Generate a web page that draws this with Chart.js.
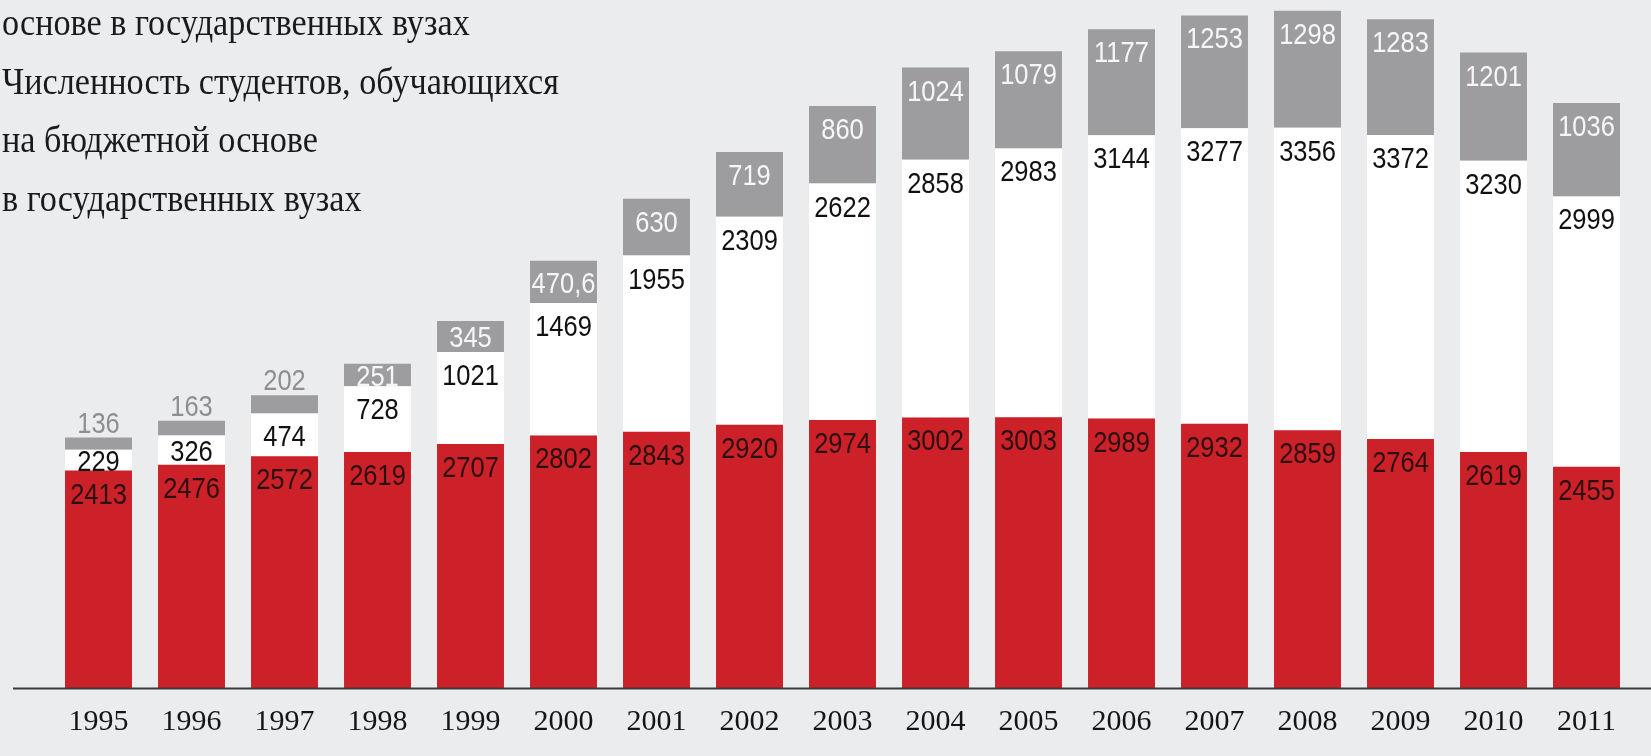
<!DOCTYPE html>
<html>
<head>
<meta charset="utf-8">
<script src="https://cdn.jsdelivr.net/npm/chart.js@4.4.1/dist/chart.umd.min.js"></script>
<style>
  html, body { margin: 0; padding: 0; background: #ebecee; }
  #wrap { position: relative; width: 1651px; height: 756px; overflow: hidden; }
  #legend { position: absolute; left: 2px; top: -7px; font-family: "Liberation Serif", "DejaVu Serif", serif;
            font-size: 38px; line-height: 58.7px; color: #1a1a1a; white-space: nowrap; z-index: 2; pointer-events: none;
            transform: scaleX(0.9); transform-origin: 0 0; }
  canvas { position: absolute; left: 0; top: 0; }
</style>
</head>
<body>
<div id="wrap">
  <canvas id="c" width="1651" height="756"></canvas>
  <div id="legend">
    <div>основе в государственных вузах</div>
    <div>Численность студентов, обучающихся</div>
    <div>на бюджетной основе</div>
    <div>в государственных вузах</div>
  </div>
</div>
<script>
const years = ['1995','1996','1997','1998','1999','2000','2001','2002','2003','2004','2005','2006','2007','2008','2009','2010','2011'];
const budgetStudents = [2413, 2476, 2572, 2619, 2707, 2802, 2843, 2920, 2974, 3002, 3003, 2989, 2932, 2859, 2764, 2619, 2455];
const paidStudents = [229, 326, 474, 728, 1021, 1469, 1955, 2309, 2622, 2858, 2983, 3144, 3277, 3356, 3372, 3230, 2999];
const privateStudents = [136, 163, 202, 251, 345, 470.6, 630, 719, 860, 1024, 1079, 1177, 1253, 1298, 1283, 1201, 1036];

const labelFont = '30px "Liberation Sans", Arial, sans-serif';
const labelColors = ['#2a1011', '#111111', '#f6f6f6'];

const segmentLabels = {
  id: 'segmentLabels',
  afterDatasetsDraw(chart) {
    const ctx = chart.ctx;
    ctx.save();
    ctx.font = labelFont;
    ctx.textAlign = 'center';
    ctx.textBaseline = 'alphabetic';
    const n = chart.data.labels.length;
    for (let i = 0; i < n; i++) {
      let barTop = Infinity;
      chart.data.datasets.forEach((ds, di) => {
        const el = chart.getDatasetMeta(di).data[i];
        barTop = Math.min(barTop, el.y);
      });
      chart.data.datasets.forEach((ds, di) => {
        const el = chart.getDatasetMeta(di).data[i];
        const top = el.y, bottom = el.base;
        const h = bottom - top;
        const txt = String(ds.data[i]).replace('.', ',');
        let cy, color = labelColors[di];
        if (h >= 20) {
          cy = top + Math.min(22, h / 2);
        } else {
          cy = barTop - 16;
          color = '#8f8f91';
        }
        ctx.fillStyle = color;
        ctx.save();
        ctx.translate(el.x, cy + 11);
        ctx.scale(0.85, 1);
        ctx.fillText(txt, 0, 0);
        ctx.restore();
      });
    }
    ctx.restore();
  }
};

const baseLine = {
  id: 'baseLine',
  afterDatasetsDraw(chart) {
    const ctx = chart.ctx;
    const y = chart.chartArea.bottom + 0.5;
    ctx.save();
    ctx.strokeStyle = '#3a3a3a';
    ctx.lineWidth = 2;
    ctx.beginPath();
    ctx.moveTo(13, y);
    ctx.lineTo(1651, y);
    ctx.stroke();
    ctx.restore();
  }
};

new Chart(document.getElementById('c'), {
  type: 'bar',
  data: {
    labels: years,
    datasets: [
      { label: 'Бюджетная основа', data: budgetStudents, backgroundColor: '#cc2128' },
      { label: 'Платная основа', data: paidStudents, backgroundColor: '#ffffff' },
      { label: 'Негосударственные вузы', data: privateStudents, backgroundColor: '#9d9d9f' }
    ]
  },
  options: {
    responsive: false,
    animation: false,
    layout: { padding: { left: 52, right: 18, top: 3, bottom: 0 } },
    datasets: { bar: { categoryPercentage: 1, barPercentage: 0.72, borderWidth: 0 } },
    plugins: { legend: { display: false }, tooltip: { enabled: false }, title: { display: false } },
    scales: {
      x: {
        stacked: true,
        grid: { display: false, drawTicks: false },
        border: { display: false },
        ticks: { color: '#151515', padding: 19, font: { family: '"Liberation Serif", serif', size: 30, lineHeight: 1 } }
      },
      y: {
        stacked: true,
        min: 0,
        max: 7600,
        display: false
      }
    }
  },
  plugins: [segmentLabels, baseLine]
});
</script>
</body>
</html>
